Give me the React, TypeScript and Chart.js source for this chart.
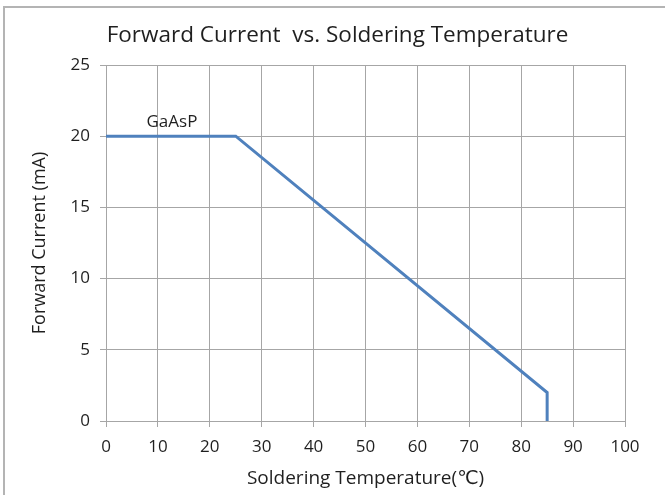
import React, { useEffect, useRef } from "react";
import { Chart, registerables } from "chart.js";

Chart.register(...registerables);

const temperatures = [0, 25, 85, 85];
const currents = [20, 20, 2, 0];
const xTicks = [0, 10, 20, 30, 40, 50, 60, 70, 80, 90, 100];
const yTicks = [0, 5, 10, 15, 20, 25];
const seriesLabel = "GaAsP";
const seriesLabelAt = { x: 12.7, y: 20 };
const chartTitle = "Forward Current  vs. Soldering Temperature";

const FONT = "'Open Sans', 'DejaVu Sans', sans-serif";
const GRID = "#a6a6a6";
const TEXT = "#1f1f1f";

const labelPlugin = {
  id: "seriesLabel",
  afterDatasetsDraw(chart: any) {
    const { ctx, scales } = chart;
    const px = scales.x.getPixelForValue(seriesLabelAt.x);
    const py = scales.y.getPixelForValue(seriesLabelAt.y);
    ctx.save();
    ctx.font = `17px ${FONT}`;
    ctx.fillStyle = TEXT;
    ctx.textAlign = "center";
    ctx.textBaseline = "middle";
    ctx.fillText(seriesLabel, px, py - 14);
    // chart title, centred a little right of the page centre as in the reference
    ctx.font = `22.5px ${FONT}`;
    ctx.fillText(chartTitle, 337.5, 36);
    ctx.restore();
  },
};

export default function App() {
  const ref = useRef<HTMLCanvasElement>(null);

  useEffect(() => {
    if (!ref.current) return;
    const chart = new Chart(ref.current, {
      type: "scatter",
      data: {
        datasets: [
          {
            label: seriesLabel,
            data: temperatures.map((t, i) => ({ x: t, y: currents[i] })),
            showLine: true,
            borderColor: "#4f81bd",
            backgroundColor: "#4f81bd",
            borderWidth: 3,
            pointRadius: 0,
            pointHoverRadius: 0,
            tension: 0,
          },
        ],
      },
      options: {
        responsive: false,
        animation: false,
        layout: { padding: { left: 0, right: 40, top: 65, bottom: 0 } },
        plugins: {
          legend: { display: false },
          tooltip: { enabled: false },
          title: { display: false },
        },
        scales: {
          x: {
            type: "linear",
            min: 0,
            max: 100,
            afterBuildTicks: (s: any) => {
              s.ticks = xTicks.map((v) => ({ value: v }));
            },
            afterFit: (s: any) => {
              s.height = 74;
            },
            ticks: {
              color: TEXT,
              font: { family: FONT, size: 17 },
              padding: 10,
              maxRotation: 0,
            },
            grid: { color: GRID, lineWidth: 1, tickLength: 6, drawTicks: true },
            border: { color: GRID, width: 1 },
            title: {
              display: true,
              text: "Soldering Temperature(℃)",
              color: TEXT,
              font: { family: FONT, size: 19 },
              padding: { top: 0, bottom: 5.5 },
            },
          },
          y: {
            type: "linear",
            min: 0,
            max: 25,
            afterBuildTicks: (s: any) => {
              s.ticks = yTicks.map((v) => ({ value: v }));
            },
            afterFit: (s: any) => {
              s.width = 106;
            },
            ticks: {
              color: TEXT,
              font: { family: FONT, size: 17 },
              padding: 10,
            },
            grid: { color: GRID, lineWidth: 1, tickLength: 6, drawTicks: true },
            border: { color: GRID, width: 1 },
            title: {
              display: true,
              text: "Forward Current (mA)",
              color: TEXT,
              font: { family: FONT, size: 18 },
              padding: { top: 29, bottom: 0 },
            },
          },
        },
      },
      plugins: [labelPlugin],
    });
    return () => chart.destroy();
  }, []);

  return (
    <div
      style={{
        position: "fixed",
        left: 0,
        top: 0,
        width: 665,
        height: 495,
        background: "#fff",
        overflow: "hidden",
      }}
    >
      <div
        style={{
          position: "absolute",
          left: 3,
          top: 6,
          width: 700,
          height: 520,
          borderTop: "2px solid #b4b4b4",
          borderLeft: "2px solid #b4b4b4",
        }}
      />
      <canvas
        ref={ref}
        width={665}
        height={495}
        style={{ position: "absolute", left: 0, top: 0, width: 665, height: 495 }}
      />
    </div>
  );
}
